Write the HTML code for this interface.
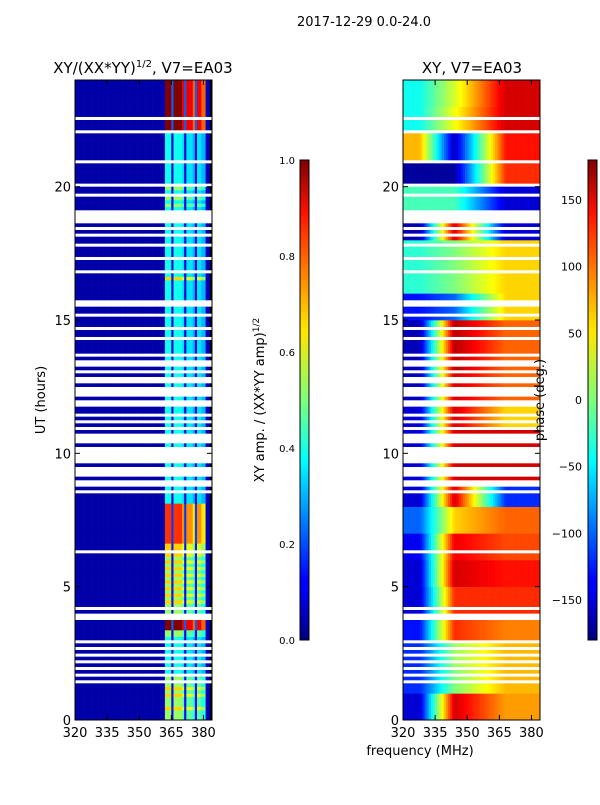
<!DOCTYPE html>
<html><head><meta charset="utf-8"><style>
body{margin:0;background:#fff;}
svg text{font-family:"DejaVu Sans","Liberation Sans",sans-serif;fill:#000;}
</style></head><body>
<svg id="fig" width="600" height="800" xmlns="http://www.w3.org/2000/svg">
<defs>
<linearGradient id="jet" x1="0" y1="1" x2="0" y2="0">
<stop offset="0" stop-color="#00007f"/><stop offset="0.11" stop-color="#0000ff"/><stop offset="0.125" stop-color="#0000ff"/>
<stop offset="0.34" stop-color="#00dcff"/><stop offset="0.375" stop-color="#00ffff"/><stop offset="0.5" stop-color="#7dff7a"/>
<stop offset="0.64" stop-color="#ffe600"/><stop offset="0.66" stop-color="#ffdc00"/><stop offset="0.89" stop-color="#ff1200"/>
<stop offset="1" stop-color="#7f0000"/></linearGradient>
</defs>
<text x="364" y="26" font-size="13" text-anchor="middle">2017-12-29 0.0-24.0</text>
<text x="143" y="73" font-size="15" text-anchor="middle">XY/(XX*YY)<tspan font-size="10" dy="-6">1/2</tspan><tspan dy="6">, V7=EA03</tspan></text>
<text x="472" y="73" font-size="15" text-anchor="middle">XY, V7=EA03</text>
<g id="amp"></g>
<g id="pha"></g>
<g id="axes"></g>
<rect x="300" y="160" width="9" height="480" fill="url(#jet)" stroke="#000" stroke-width="1"/>
<rect x="588" y="160" width="9" height="480" fill="url(#jet)" stroke="#000" stroke-width="1"/>
<text transform="translate(264,400) rotate(-90)" font-size="13" text-anchor="middle">XY amp. / (XX*YY amp)<tspan font-size="9" dy="-5">1/2</tspan></text>
<text transform="translate(544,400) rotate(-90)" font-size="13" text-anchor="middle">phase (deg.)</text>
<text transform="translate(45,400) rotate(-90)" font-size="13" text-anchor="middle">UT (hours)</text>
<text x="420" y="755" font-size="13" text-anchor="middle">frequency (MHz)</text>
</svg>
<script>
// flags/amplitude level per 7.5-min slot, one string per hour (0..23), '.' = flagged
const rowLevels=["66676667","676.6.5.","5.5.5.5.","566999..","6.676767","67676767","67.77888","88888888","8555.5..","5...5...","..5...5.","5.5.55..","5...5..5",".5..5.55","55.55.55","5.55..55","555575.5","55.555.5","5.5.5...",".5656.56",".555555.","55555555",".999.999","99999999"];
// amplitude band profile per 1 MHz channel, 320..383 (0 = background)
const bandProfile="000000000000000000000000000000000000000000999299998288872887700";
// phase (deg) per hour for three frequency segments
const phaseLow=[-150,-120,-120,-130,-150,-150,-140,-100,-150,-150,-150,-150,-160,-160,-160,-130,-30,-30,-160,-20,-170,70,-40,-40];
const phaseMid=[150,0,10,120,120,150,140,60,150,150,150,150,150,160,160,-100,0,0,150,-20,-170,-160,40,30];
const phaseHigh=[80,70,70,90,120,130,110,100,-120,150,150,60,100,100,100,60,60,60,-150,-150,120,130,150,150];
const ampTicks=[0,0.2,0.4,0.6,0.8,1.0];
const phaseTicks=[-150,-100,-50,0,50,100,150];
const xTicks=[320,335,350,365,380];
const yTicks=[0,5,10,15,20];

const NS="http://www.w3.org/2000/svg";
function jet(v){v=Math.max(0,Math.min(1,v));
 const r=Math.min(4*v-1.5,-4*v+4.5),g=Math.min(4*v-0.5,-4*v+3.5),b=Math.min(4*v+0.5,-4*v+2.5);
 const c=x=>Math.round(255*Math.max(0,Math.min(1,x)));return `rgb(${c(r)},${c(g)},${c(b)})`;}
function yS(h){return 720-h*(640/24);}
function xL(f){return 75+(f-320)*(137/64);}
function xR(f){return 403+(f-320)*(137/64);}
function mk(tag,attrs,parent){const e=document.createElementNS(NS,tag);for(const k in attrs)e.setAttribute(k,attrs[k]);parent.appendChild(e);return e;}
const amp=document.getElementById('amp'),pha=document.getElementById('pha'),axes=document.getElementById('axes');
function lerp(a,b,t){return a+(b-a)*t;}
for(let h=0;h<24;h++){for(let s=0;s<8;s++){
 const ch=rowLevels[h][s];if(ch==='.')continue;
 const lvl=Math.pow(+ch/9,1.6), t0=h+s/8, y1=yS(t0+1/8), hh=yS(t0)-y1;
 for(let c=0;c<64;c++){
  const p=+bandProfile[c];
  const v=p===0?0.04+0.02*((c>40)?1:0):Math.min(1,lvl*p/9);
  const r=mk('rect',{x:xL(320+c),y:y1,width:137/64+0.3,height:hh+0.3,fill:jet(v)},amp);
  
  
  const f=320.5+c;let ph;
  if(f<328)ph=phaseLow[h];else if(f<344)ph=lerp(phaseLow[h],phaseMid[h],(f-328)/16);
  else if(f<368)ph=lerp(phaseMid[h],phaseHigh[h],(f-344)/24);else ph=phaseHigh[h];
  const q=mk('rect',{x:xR(320+c),y:y1,width:137/64+0.3,height:hh+0.3,fill:jet((ph+180)/360)},pha);
  
  
 }}}
function frame(x0,fx){
 const fr=mk('rect',{x:x0,y:80,width:137,height:640,fill:'none',stroke:'#000','stroke-width':1},axes);
 
 
 xTicks.forEach(t=>{const x=fx(t);
  mk('line',{x1:x,y1:720,x2:x,y2:715,stroke:'#000'},axes);mk('line',{x1:x,y1:80,x2:x,y2:85,stroke:'#000'},axes);
  const tx=mk('text',{x:x,y:737,'font-size':13,'text-anchor':'middle'},axes);tx.textContent=t;
  
  });
 yTicks.forEach(t=>{const y=yS(t);
  mk('line',{x1:x0,y1:y,x2:x0+5,y2:y,stroke:'#000'},axes);mk('line',{x1:x0+137,y1:y,x2:x0+132,y2:y,stroke:'#000'},axes);
  const tx=mk('text',{x:x0-4,y:y+5,'font-size':13,'text-anchor':'end'},axes);tx.textContent=t;
  
  });
}
frame(75,xL);frame(403,xR);
ampTicks.forEach(t=>{const y=640-t*480;
 mk('line',{x1:300,y1:y,x2:304,y2:y,stroke:'#000'},axes);
 const tx=mk('text',{x:295,y:y+4,'font-size':10,'text-anchor':'end'},axes);tx.textContent=t.toFixed(1);
 
 });
phaseTicks.forEach(t=>{const y=640-(t+180)/360*480;
 mk('line',{x1:588,y1:y,x2:592,y2:y,stroke:'#000'},axes);
 const tx=mk('text',{x:582,y:y+4,'font-size':11,'text-anchor':'end'},axes);tx.textContent=(t<0?'\u2212':'')+Math.abs(t);
 
 });
</script>
</body></html>
